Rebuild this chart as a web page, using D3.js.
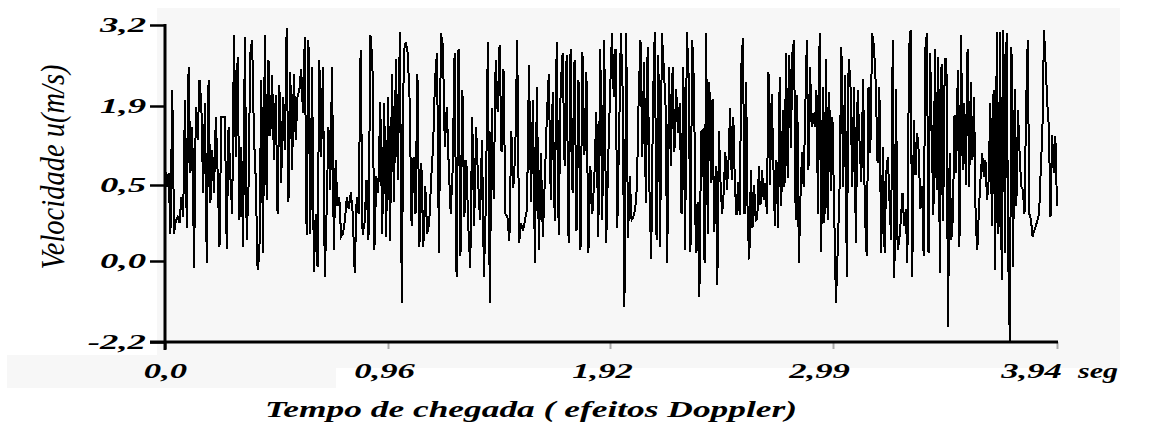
<!DOCTYPE html>
<html>
<head>
<meta charset="utf-8">
<script src="https://cdn.jsdelivr.net/npm/d3@7"></script>
<style>
  body { margin: 0; background: #fff; }
  svg { display: block; }
</style>
</head>
<body>
<script>
// axis ticks, labels as printed (comma decimals)
var yTicks = [-2.2, 0.0, 0.5, 1.9, 3.2],
    yTickLabels = ["-2,2", "0,0", "0,5", "1,9", "3,2"],
    xTicks = [0, 0.96, 1.92, 2.99, 3.94],
    xTickLabels = ["0,0", "0,96", "1,92", "2,99", "3,94"];

var segmentTimes = [0.0, 0.766, 1.544, 2.366, 3.202, 3.94];

var speed1 = [0.83,0.49,0.71,0.18,2.15,0.18,0.27,0.29,0.25,0.42,0.29,1.99,0.22,2.53,0.71,1.53,-0.2,1.89,1.3,2.32,
  1.95,0.45,1.95,-0.06,2.32,0.38,1.12,0.45,1.71,0.71,0.09,1.71,1.71,1.71,0.08,1.53,0.65,0.31,3.04,1.0,
  2.69,0.27,1.18,0.09,3.01,0.14,0.49,2.75,2.96,1.36,0.59,-0.24,0.05,2.32,0.05,3.04,0.4,2.64,1.36,2.4,
  0.94,2.08,0.31,2.24,0.53,2.05,1.12,3.15,0.39,2.45,0.77,2.42,1.3,2.05,2.15,2.5,1.77,3.01,0.17,2.96,
  0.18,2.53,-0.29,0.31,-0.15,2.64,1.0,2.53,-0.43,0.32,1.53,0.47,2.53,0.07,0.94,0.36,0.42,0.16];

var speed2 = [0.18,0.27,0.42,0.34,0.45,0.31,-0.33,0.42,0.31,2.8,0.17,0.25,0.59,0.14,3.04,2.64,0.07,0.65,0.45,1.97,
  0.18,1.95,0.16,2.05,0.13,2.42,0.39,2.66,0.59,3.09,-1.15,2.77,2.93,2.75,1.99,0.23,1.0,0.31,2.42,0.09,
  0.89,0.09,0.49,0.18,0.25,0.59,1.18,2.34,2.75,0.05,3.07,2.88,1.18,1.89,0.83,0.31,0.77,2.75,-0.43,2.82,
  0.03,2.15,0.29,0.94,0.23,-0.2,1.71,0.23,1.53,0.59,0.27,1.3,-0.43,0.39,2.93,-1.15,1.86,0.41,2.64,1.8,
  2.88,1.09,2.5,0.31,0.29,0.13,1.45,0.48,1.06,2.96,0.12,0.25];

var speed3 = [0.2,0.27,0.34,2.56,0.39,1.99,-0.06,2.21,0.07,1.06,0.16,0.59,1.68,2.42,0.4,2.13,0.26,2.93,0.17,2.21,
  2.75,0.83,2.72,0.12,2.82,0.45,2.64,0.2,2.32,0.07,2.77,1.03,2.45,0.05,0.83,0.31,0.62,1.8,0.16,2.82,
  0.27,2.96,0.12,0.94,2.15,3.07,2.05,2.82,0.22,1.36,3.07,2.15,-1.24,3.07,0.15,0.65,0.27,0.29,0.34,0.49,
  2.05,2.96,1.0,2.61,0.38,2.85,0.48,0.01,1.97,3.09,0.14,2.72,0.09,3.07,2.53,1.97,-0.06,2.53,0.83,2.53,
  1.09,2.18,1.42,1.95,0.31,2.53,0.07,3.09,2.37,0.06,2.96,2.21,0.05,0.39,-0.97,1.45];

var speed4 = [1.48,-0.06,3.07,0.18,2.29,0.53,2.02,0.19,0.83,-0.65,1.45,0.53,0.31,0.45,1.09,0.47,0.94,1.86,0.59,1.71,
  0.49,0.3,0.56,0.3,2.53,2.99,0.31,2.29,0.25,0.01,0.77,0.22,0.5,0.27,0.28,0.83,0.37,0.77,0.4,0.53,
  0.31,2.45,0.5,2.1,0.94,0.23,0.94,0.22,2.37,0.36,1.83,0.49,2.75,0.62,2.72,1.15,2.75,2.96,0.27,2.08,
  -0.06,0.42,1.09,0.49,1.83,2.96,0.77,2.53,1.53,1.77,1.53,2.15,0.31,3.07,0.06,2.21,0.25,2.66,0.27,2.13,
  0.46,1.71,0.34,-1.15,0.08,0.49,2.85,0.49,2.4,-0.43,2.66,2.29,0.49,2.21,0.12,2.15,1.3,0.56,2.34,0.31,
  0.03,2.21,1.06,3.07,2.85,2.26,0.89,2.21,0.05];

var speed5 = [1.18,0.05,0.71,1.0,0.4,0.14,2.96,-0.47,2.18,0.07,0.14,0.27,0.45,0.23,0.34,-0.06,2.82,3.12,-0.43,1.65,
  0.68,1.42,1.09,0.34,0.49,0.03,2.8,3.07,0.05,2.75,1.33,0.3,2.82,0.47,2.69,-0.33,2.58,0.26,2.66,2.66,
  -1.78,1.06,0.14,0.29,1.74,0.71,2.48,0.09,3.04,0.77,1.95,0.5,2.82,0.49,2.29,0.94,2.05,0.27,0.07,0.34,
  0.62,1.06,0.65,0.94,0.4,0.59,1.95,0.23,2.15,-0.24,3.09,0.18,3.09,-0.52,3.12,0.05,3.07,0.03,-2.2,2.85,
  -0.15,2.18,0.36,1.83,1.06,0.49,0.47,0.31,1.89,2.96,0.31,0.27,0.16,0.2,0.23,0.27,0.31,0.77,1.42,3.12,
  2.58,1.95,1.53,0.29,1.39,0.71,1.36,0.36];

var width = 1156, height = 430;

var svg = d3.select("body").append("svg")
    .attr("width", width).attr("height", height);

// light grey scan background
svg.append("rect").attr("x", 157).attr("y", 8).attr("width", 963).attr("height", 360).attr("fill", "#f7f7f7");
svg.append("rect").attr("x", 7).attr("y", 355).attr("width", 329).attr("height", 33).attr("fill", "#f7f7f7");

// tick labels are evenly spaced although their values are not
var x = d3.scaleLinear().domain(xTicks).range([165, 388, 610, 833, 1057]),
    y = d3.scaleLinear().domain(yTicks).range([342, 261, 185, 106, 25]),
    xLabel = d3.scaleLinear().domain(xTicks).range([165, 384, 602, 819, 1031]);

var points = [];
[speed1, speed2, speed3, speed4, speed5].forEach(function(seg, k, all) {
  var t0 = segmentTimes[k], t1 = segmentTimes[k + 1],
      n = k === all.length - 1 ? seg.length - 1 : seg.length;
  seg.forEach(function(v, i) {
    points.push({t: t0 + (t1 - t0) * i / n, v: v});
  });
});

var line = d3.line().x(d => x(d.t)).y(d => y(d.v));

svg.append("path")
    .attr("d", line(points))
    .attr("fill", "none")
    .attr("stroke", "#000")
    .attr("stroke-width", 2)
    .attr("shape-rendering", "crispEdges");

var font = "Liberation Serif";

// axes
var yAxis = d3.axisLeft(y).tickValues(yTicks)
    .tickFormat((d, i) => yTickLabels[i]).tickSize(15).tickSizeOuter(0).tickPadding(3);
var xAxis = d3.axisBottom(x).tickValues(xTicks)
    .tickFormat((d, i) => xTickLabels[i]).tickSize(7).tickSizeOuter(0);

var gy = svg.append("g").attr("transform", "translate(165,0)").call(yAxis);
var gx = svg.append("g").attr("transform", "translate(0,342)").call(xAxis);

gy.select(".domain").remove();
gx.select(".domain").remove();

svg.append("line").attr("x1", 165).attr("x2", 165).attr("y1", 24).attr("y2", 350)
    .attr("stroke", "#000").attr("stroke-width", 3);
svg.append("line").attr("x1", 150).attr("x2", 1058).attr("y1", 342).attr("y2", 342)
    .attr("stroke", "#000").attr("stroke-width", 3);

gy.selectAll(".tick line").attr("stroke", "#000").attr("stroke-width", 2.5);
gx.selectAll(".tick line").attr("stroke", (d, i) => i ? "#aaa" : "#000").attr("stroke-width", 2);

[gy, gx].forEach(function(g) {
  g.selectAll(".tick text")
      .attr("font-family", font)
      .attr("font-weight", "bold")
      .attr("font-style", "italic")
      .attr("font-size", 21)
      .attr("fill", "#000");
});

gy.selectAll(".tick text").attr("x", -19);
gx.selectAll(".tick text")
    .attr("y", 36).attr("dy", null)
    .attr("x", d => xLabel(d) - x(d));

// horizontal stretch of the printed labels
gy.selectAll(".tick text").each(function() {
  var w = this.getComputedTextLength();
  d3.select(this).attr("textLength", w * 1.75).attr("lengthAdjust", "spacingAndGlyphs");
});
gx.selectAll(".tick text").each(function() {
  var w = this.getComputedTextLength();
  d3.select(this).attr("textLength", w * 1.65).attr("lengthAdjust", "spacingAndGlyphs");
});

svg.append("text")
    .attr("x", 1078).attr("y", 378)
    .attr("font-family", font).attr("font-weight", "bold").attr("font-style", "italic")
    .attr("font-size", 21)
    .attr("textLength", 40).attr("lengthAdjust", "spacingAndGlyphs")
    .text("seg");

svg.append("text")
    .attr("x", 265).attr("y", 417)
    .attr("font-family", font).attr("font-weight", "bold").attr("font-style", "italic")
    .attr("font-size", 23)
    .attr("textLength", 532).attr("lengthAdjust", "spacingAndGlyphs")
    .text("Tempo de chegada ( efeitos Doppler)");

svg.append("text")
    .attr("transform", "translate(64,167) scale(1.45,1) rotate(-90)")
    .attr("text-anchor", "middle")
    .attr("font-family", font).attr("font-style", "italic")
    .attr("font-size", 23)
    .attr("textLength", 205).attr("lengthAdjust", "spacingAndGlyphs")
    .text("Velocidade u(m/s)");
</script>
</body>
</html>
